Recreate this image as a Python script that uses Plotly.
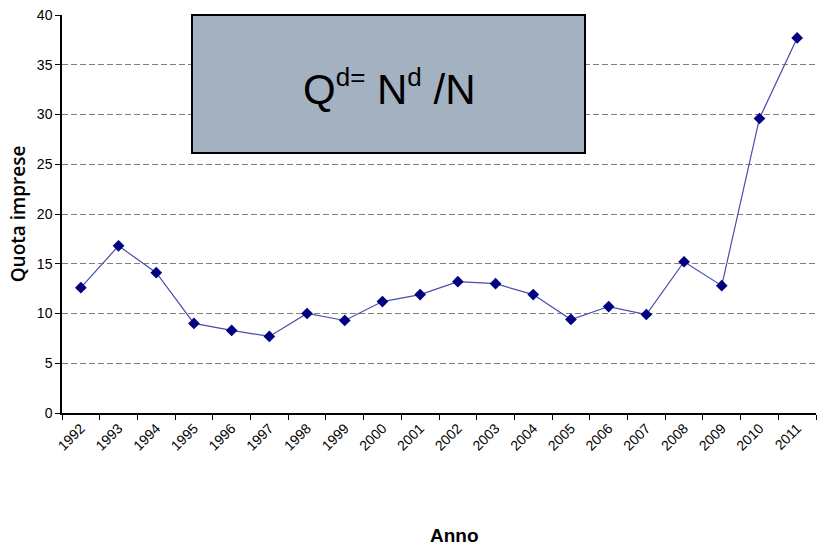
import plotly.graph_objects as go

# Quota imprese per anno
anni = ["1992", "1993", "1994", "1995", "1996", "1997", "1998", "1999", "2000", "2001",
        "2002", "2003", "2004", "2005", "2006", "2007", "2008", "2009", "2010", "2011"]
quota = [12.6, 16.8, 14.1, 9.0, 8.3, 7.7, 10.0, 9.3, 11.2, 11.9,
         13.2, 13.0, 11.9, 9.4, 10.7, 9.9, 15.2, 12.8, 29.6, 37.7]
y_ticks = [0, 5, 10, 15, 20, 25, 30, 35, 40]

fig = go.Figure()
fig.add_trace(go.Scatter(
    x=anni, y=quota, mode="lines+markers",
    line=dict(color="#4B4BAA", width=1.2),
    marker=dict(symbol="diamond", size=9, color="#000080"),
    showlegend=False,
))

formula = ("Q<sup><span style='font-size:26px'>d=</span></sup> "
           "N<sup><span style='font-size:26px'>d</span></sup> /N")

fig.update_layout(
    width=817, height=548,
    margin=dict(l=62, r=1, t=15, b=135),
    plot_bgcolor="white", paper_bgcolor="white",
    font=dict(family="Liberation Sans, Arial", size=12, color="#000"),
    xaxis=dict(
        type="category", tickson="boundaries", ticks="outside", ticklen=5,
        range=[-0.5, len(anni) - 0.5],
        tickcolor="#000", showline=True, linecolor="#000", linewidth=1.5,
        tickangle=-45, showgrid=False, tickfont=dict(size=14),
    ),
    yaxis=dict(
        range=[0, 40], tickvals=y_ticks, ticks="outside", ticklen=5,
        tickcolor="#000", showline=True, linecolor="#000", linewidth=1.5,
        showgrid=True, gridcolor="#808080", griddash="6px,3px", gridwidth=1,
        zeroline=False, tickfont=dict(size=14),
        title=dict(text="Quota imprese",
                   font=dict(family="Open Sans", size=19, weight=600), standoff=6),
    ),
    shapes=[dict(
        type="rect", xref="paper", yref="paper",
        x0=(192 - 62) / 754, x1=(585 - 62) / 754,
        y0=(413 - 153) / 398, y1=1.0,
        fillcolor="#A3B1C0", line=dict(color="#000", width=2), layer="above",
    )],
    annotations=[
        dict(
            text=formula, xref="paper", yref="paper",
            x=(389 - 62) / 754, y=(413 - 87) / 398, showarrow=False,
            font=dict(family="Liberation Sans, Arial", size=42, color="#000"),
            xanchor="center", yanchor="middle",
        ),
        dict(
            text="<b>Anno</b>", xref="paper", yref="paper",
            x=(454 - 62) / 754, y=(413 - 535) / 398, showarrow=False,
            font=dict(family="Liberation Sans, Arial", size=19, color="#000"),
            xanchor="center", yanchor="middle",
        ),
    ],
)

fig.write_html("out.html")
